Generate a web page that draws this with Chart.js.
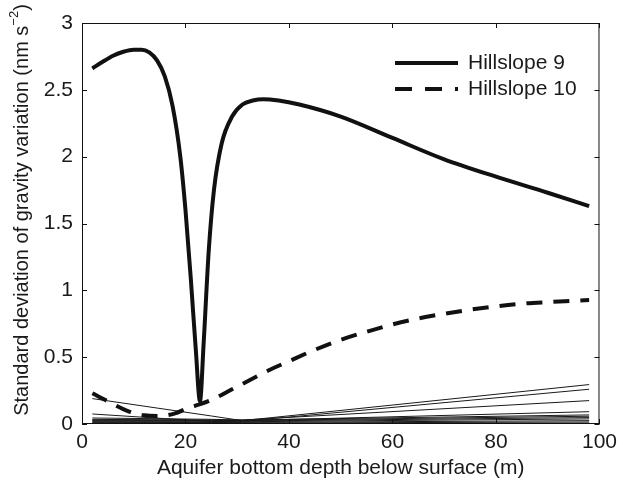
<!DOCTYPE html>
<html><head><meta charset="utf-8">
<script src="https://cdn.jsdelivr.net/npm/chart.js@4.4.1/dist/chart.umd.min.js"></script>
<style>html,body{margin:0;padding:0;background:#fff}#wrap{width:623px;height:486px}</style>
</head><body><div id="wrap"><canvas id="c" width="623" height="486"></canvas></div>
<script>
// ---- data ----
const h9Depth = [2, 4, 6, 8, 10, 11.5, 13, 14.5, 16, 17.5, 19, 20, 21, 22, 22.8, 23.5, 24.5, 25.5, 27, 29, 31, 33, 35, 38, 42, 50, 60, 70, 80, 90, 98];
const h9Std   = [2.66, 2.71, 2.755, 2.785, 2.80, 2.80, 2.78, 2.72, 2.6, 2.38, 2.0, 1.6, 1.1, 0.55, 0.17, 0.6, 1.3, 1.75, 2.1, 2.3, 2.39, 2.42, 2.43, 2.42, 2.39, 2.3, 2.14, 1.98, 1.85, 1.73, 1.63];
const h10Depth = [2, 5, 9, 12, 15, 18, 20.5, 23, 25, 29, 33, 36, 40, 45, 50, 55, 60, 65, 70, 75, 80, 85, 90, 95, 98];
const h10Std   = [0.23, 0.17, 0.095, 0.065, 0.06, 0.08, 0.12, 0.15, 0.18, 0.26, 0.34, 0.40, 0.47, 0.555, 0.63, 0.69, 0.745, 0.79, 0.825, 0.855, 0.88, 0.9, 0.912, 0.922, 0.928];
const thinDepth = [2, 25, 31, 98];
const thin1  = [0.19, 0.06, 0.025, 0.295];
const thin2  = [0.075, 0.018, 0.02, 0.26];
const thin3  = [0.045, 0.035, 0.03, 0.175];
const thin4  = [0.035, 0.028, 0.025, 0.092];
const thin5  = [0.03, 0.03, 0.03, 0.068];
const thin6  = [0.025, 0.025, 0.026, 0.058];
const thin7  = [0.02, 0.021, 0.022, 0.048];
const thin8  = [0.015, 0.016, 0.017, 0.038];
const thin9  = [0.01, 0.011, 0.012, 0.025];
const thin10 = [0.006, 0.007, 0.007, 0.015];
const thin11 = [0.003, 0.003, 0.003, 0.006];
const xTicks = [0, 20, 40, 60, 80, 100];
const yTicks = [0, 0.5, 1, 1.5, 2, 2.5, 3];
const yTickLabels = ['0', '0.5', '1', '1.5', '2', '2.5', '3'];
const seriesNames = ['Hillslope 9', 'Hillslope 10'];

const pts = (xs, ys) => xs.map((x, i) => ({x, y: ys[i]}));
const FONT = '"Liberation Sans", Arial, Helvetica, sans-serif';
const INK = '#111';
const FS = 21;
const FSY = 20;

const thinSets = [thin1, thin2, thin3, thin4, thin5, thin6, thin7, thin8, thin9, thin10, thin11].map(v => ({
  data: pts(thinDepth, v), borderColor: '#1a1a1a', borderWidth: 1, pointRadius: 0, tension: 0, fill: false
}));

const datasets = [
  {label: seriesNames[0], data: pts(h9Depth, h9Std), borderColor: INK, borderWidth: 4, pointRadius: 0, cubicInterpolationMode: 'monotone', fill: false},
  {label: seriesNames[1], data: pts(h10Depth, h10Std), borderColor: INK, borderWidth: 4, borderDash: [16, 11], pointRadius: 0, cubicInterpolationMode: 'monotone', fill: false},
  ...thinSets
];

const decor = {
  id: 'decor',
  afterDraw(chart) {
    const {ctx, chartArea: a, scales: {x, y}} = chart;
    ctx.save();
    ctx.strokeStyle = INK; ctx.lineWidth = 1;
    ctx.strokeRect(a.left + 0.5, a.top + 0.5, a.right - a.left - 1, a.bottom - a.top - 1);
    const TL = 5;
    ctx.beginPath();
    xTicks.forEach(v => {
      const px = Math.round(x.getPixelForValue(v)) + 0.5;
      ctx.moveTo(px, a.bottom); ctx.lineTo(px, a.bottom - TL);
      ctx.moveTo(px, a.top); ctx.lineTo(px, a.top + TL);
    });
    yTicks.forEach(v => {
      const py = Math.round(y.getPixelForValue(v)) + 0.5;
      ctx.moveTo(a.left, py); ctx.lineTo(a.left + TL, py);
      ctx.moveTo(a.right, py); ctx.lineTo(a.right - TL, py);
    });
    ctx.stroke();

    // x title
    ctx.fillStyle = '#1a1a1a';
    ctx.font = FS + 'px ' + FONT;
    ctx.textAlign = 'center'; ctx.textBaseline = 'middle';
    ctx.fillText('Aquifer bottom depth below surface (m)', (a.left + a.right) / 2, 468);

    // y title with superscript
    const main = 'Standard deviation of gravity variation (nm s';
    const sup = '\u22122';
    const tail = ')';
    ctx.font = FSY + 'px ' + FONT;
    const wMain = ctx.measureText(main).width;
    const wTail = ctx.measureText(tail).width;
    ctx.font = '13px ' + FONT;
    const wSup = ctx.measureText(sup).width;
    const total = wMain + wSup + wTail;
    ctx.translate(22, 210);
    ctx.rotate(-Math.PI / 2);
    ctx.textAlign = 'left'; ctx.textBaseline = 'middle';
    let sx = -total / 2;
    ctx.font = FSY + 'px ' + FONT;
    ctx.fillText(main, sx, 0); sx += wMain;
    ctx.font = '13px ' + FONT;
    ctx.fillText(sup, sx, -8); sx += wSup;
    ctx.font = FSY + 'px ' + FONT;
    ctx.fillText(tail, sx, 0);
    ctx.restore();

    // legend
    ctx.save();
    ctx.strokeStyle = INK; ctx.lineWidth = 4; ctx.lineCap = 'butt';
    ctx.beginPath(); ctx.moveTo(395, 63); ctx.lineTo(458, 63); ctx.stroke();
    ctx.setLineDash([17, 13]);
    ctx.beginPath(); ctx.moveTo(395, 89); ctx.lineTo(458, 89); ctx.stroke();
    ctx.setLineDash([]);
    ctx.fillStyle = '#1a1a1a';
    ctx.font = FS + 'px ' + FONT;
    ctx.textAlign = 'left'; ctx.textBaseline = 'middle';
    ctx.fillText(seriesNames[0], 468, 63);
    ctx.fillText(seriesNames[1], 468, 89);
    ctx.restore();
  }
};

new Chart(document.getElementById('c'), {
  type: 'line',
  data: {datasets},
  options: {
    responsive: false, animation: false, devicePixelRatio: 1,
    layout: {padding: {top: 23, right: 20, left: 0, bottom: 0}},
    plugins: {legend: {display: false}, tooltip: {enabled: false}},
    elements: {line: {borderCapStyle: 'butt', borderJoinStyle: 'round'}},
    scales: {
      x: {
        type: 'linear', min: 0, max: 100,
        afterBuildTicks: s => { s.ticks = xTicks.map(v => ({value: v})); },
        ticks: {font: {size: FS, family: FONT}, color: '#1a1a1a', padding: 6, maxRotation: 0, autoSkip: false,
                callback: v => String(v)},
        grid: {display: false, drawTicks: false},
        border: {display: false},
        afterFit: s => { s.height = 62; }
      },
      y: {
        type: 'linear', min: 0, max: 3,
        afterBuildTicks: s => { s.ticks = yTicks.map(v => ({value: v})); },
        ticks: {font: {size: FS, family: FONT}, color: '#1a1a1a', padding: 9, autoSkip: false,
                callback: (v, i) => yTickLabels[yTicks.indexOf(v)] ?? String(v)},
        grid: {display: false, drawTicks: false},
        border: {display: false},
        afterFit: s => { s.width = 82; }
      }
    }
  },
  plugins: [decor]
});
</script>
</body></html>
